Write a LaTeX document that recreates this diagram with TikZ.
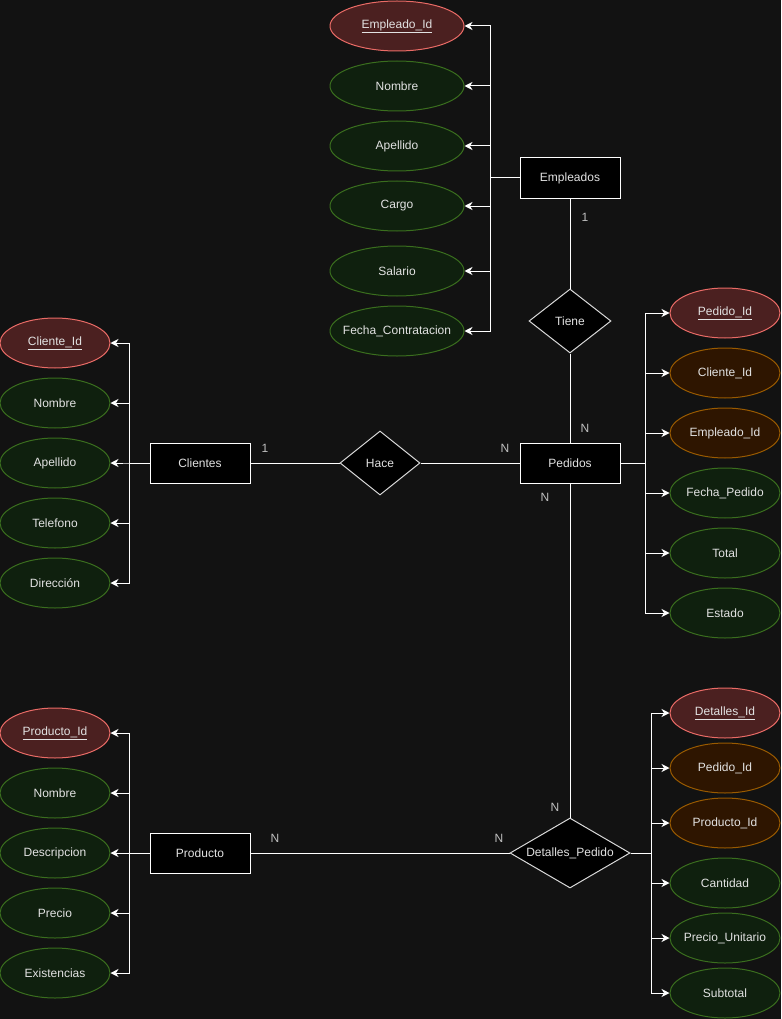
\documentclass[tikz,border=0pt]{standalone}
\usepackage{fontspec}
\setmainfont{Liberation Sans}
\usepackage{tikz}
\usetikzlibrary{shapes,arrows,arrows.meta,positioning}
\definecolor{fondo}{RGB}{18,18,18}
\definecolor{txt}{RGB}{226,226,226}
\definecolor{pkfill}{RGB}{75,32,32}
\definecolor{pkline}{RGB}{234,107,102}
\definecolor{fkfill}{RGB}{46,21,0}
\definecolor{fkline}{RGB}{153,90,0}
\definecolor{atfill}{RGB}{15,32,14}
\definecolor{atline}{RGB}{58,110,30}
\tikzstyle{line} = [draw=white, line width=1pt, -{Stealth[length=8pt, width=8pt, inset=2.5pt]}]
\tikzstyle{enlace} = [draw=white, line width=1pt]
\tikzstyle{entidad} = [rectangle, draw=white, line width=1pt, fill=black, minimum width=100pt, minimum height=40pt, text=txt, font=\fontsize{12}{14}\selectfont]
\tikzstyle{relacion} = [diamond, draw=white!85!black, line width=1pt, fill=black, aspect=1.7, inner sep=0pt, text=txt, font=\fontsize{12}{14}\selectfont]
\tikzstyle{atributo} = [ellipse, draw=atline, line width=1pt, fill=atfill, minimum width=110pt, minimum height=50pt, inner sep=0pt, text=txt, font=\fontsize{12}{14}\selectfont, node distance=60pt]
\tikzstyle{pk} = [atributo, draw=pkline, fill=pkfill]
\tikzstyle{fk} = [atributo, draw=fkline, fill=fkfill]
\tikzstyle{card} = [text=txt!85!black, font=\fontsize{12}{14}\selectfont]

\begin{document}
\begin{tikzpicture}[x=1pt, y=-1pt]
	\useasboundingbox (0,0) rectangle (781,1019);
	\fill[fondo] (0,0) rectangle (781,1019);
	
	% entidades y relaciones
	\node [entidad] (empleados) at (570,178) {Empleados};
	\node [relacion, below of = empleados, node distance = 143pt, minimum width=82pt, minimum height=64pt] (tiene) {Tiene};
	\node [entidad, below of = tiene, node distance = 142pt] (pedidos) {Pedidos};
	\node [relacion, left of = pedidos, node distance = 190pt, minimum width=80pt, minimum height=64pt] (hace) {Hace};
	\node [entidad, left of = hace, node distance = 180pt] (clientes) {Clientes};
	\node [relacion, below of = pedidos, node distance = 390pt, minimum width=120pt, minimum height=70pt] (detalles) {Detalles\_Pedido};
	\node [entidad, left of = detalles, node distance = 370pt] (producto) {Producto};
	
	% atributos de Empleados
	\node [pk, minimum width=134pt] (empid) at (397,26) {\underline{Empleado\_Id}};
	\node [atributo, minimum width=134pt, below of = empid] (empnombre) {Nombre};
	\node [atributo, minimum width=134pt, below of = empnombre] (empapellido) {Apellido};
	\node [atributo, minimum width=134pt, below of = empapellido] (empcargo) {Cargo};
	\node [atributo, minimum width=134pt, below of = empcargo, node distance=65pt] (empsalario) {Salario};
	\node [atributo, minimum width=134pt, below of = empsalario] (empfecha) {\makebox[0pt]{Fecha\_Contratacion}};
	
	\path [line] (empleados.west) -- ++(-29,0) |- (empid.east);
	\path [line] (empleados.west) -- ++(-29,0) |- (empnombre.east);
	\path [line] (empleados.west) -- ++(-29,0) |- (empapellido.east);
	\path [line] (empleados.west) -- ++(-29,0) |- (empcargo.east);
	\path [line] (empleados.west) -- ++(-29,0) |- (empsalario.east);
	\path [line] (empleados.west) -- ++(-29,0) |- (empfecha.east);
	
	% atributos de Pedidos
	\node [pk] (pedid) at (725,313) {\underline{Pedido\_Id}};
	\node [fk, below of = pedid] (pedcliente) {Cliente\_Id};
	\node [fk, below of = pedcliente] (pedempleado) {Empleado\_Id};
	\node [atributo, below of = pedempleado] (pedfecha) {Fecha\_Pedido};
	\node [atributo, below of = pedfecha] (pedtotal) {Total};
	\node [atributo, below of = pedtotal] (pedestado) {Estado};
	
	\path [line] (pedidos.east) -- ++(25,0) |- (pedid.west);
	\path [line] (pedidos.east) -- ++(25,0) |- (pedcliente.west);
	\path [line] (pedidos.east) -- ++(25,0) |- (pedempleado.west);
	\path [line] (pedidos.east) -- ++(25,0) |- (pedfecha.west);
	\path [line] (pedidos.east) -- ++(25,0) |- (pedtotal.west);
	\path [line] (pedidos.east) -- ++(25,0) |- (pedestado.west);
	
	% atributos de Clientes
	\node [pk] (cliid) at (55,343) {\underline{Cliente\_Id}};
	\node [atributo, below of = cliid] (clinombre) {Nombre};
	\node [atributo, below of = clinombre] (cliapellido) {Apellido};
	\node [atributo, below of = cliapellido] (clitelefono) {Telefono};
	\node [atributo, below of = clitelefono] (clidireccion) {Dirección};
	
	\path [line] (clientes.west) -- ++(-20,0) |- (cliid.east);
	\path [line] (clientes.west) -- ++(-20,0) |- (clinombre.east);
	\path [line] (clientes.west) -- ++(-20,0) |- (cliapellido.east);
	\path [line] (clientes.west) -- ++(-20,0) |- (clitelefono.east);
	\path [line] (clientes.west) -- ++(-20,0) |- (clidireccion.east);
	
	% atributos de Producto
	\node [pk] (prodid) at (55,733) {\underline{Producto\_Id}};
	\node [atributo, below of = prodid] (prodnombre) {Nombre};
	\node [atributo, below of = prodnombre] (proddesc) {Descripcion};
	\node [atributo, below of = proddesc] (prodprecio) {Precio};
	\node [atributo, below of = prodprecio] (prodexist) {Existencias};
	
	\path [line] (producto.west) -- ++(-20,0) |- (prodid.east);
	\path [line] (producto.west) -- ++(-20,0) |- (prodnombre.east);
	\path [line] (producto.west) -- ++(-20,0) |- (proddesc.east);
	\path [line] (producto.west) -- ++(-20,0) |- (prodprecio.east);
	\path [line] (producto.west) -- ++(-20,0) |- (prodexist.east);
	
	% atributos de Detalles_Pedido
	\node [pk] (detid) at (725,713) {\underline{Detalles\_Id}};
	\node [fk, below of = detid, node distance=55pt] (detpedido) {Pedido\_Id};
	\node [fk, below of = detpedido, node distance=55pt] (detproducto) {Producto\_Id};
	\node [atributo, below of = detproducto] (detcantidad) {Cantidad};
	\node [atributo, below of = detcantidad, node distance=55pt] (detprecio) {\makebox[0pt]{Precio\_Unitario}};
	\node [atributo, below of = detprecio, node distance=55pt] (detsubtotal) {Subtotal};
	
	\path [line] (detalles.east) -- ++(21,0) |- (detid.west);
	\path [line] (detalles.east) -- ++(21,0) |- (detpedido.west);
	\path [line] (detalles.east) -- ++(21,0) |- (detproducto.west);
	\path [line] (detalles.east) -- ++(21,0) |- (detcantidad.west);
	\path [line] (detalles.east) -- ++(21,0) |- (detprecio.west);
	\path [line] (detalles.east) -- ++(21,0) |- (detsubtotal.west);
	
	% relaciones
	\path [enlace] (empleados.south) -- (tiene.north);
	\path [enlace] (tiene.south) -- (pedidos.north);
	\path [enlace] (clientes.east) -- (hace.west);
	\path [enlace] (hace.east) -- (pedidos.west);
	\path [enlace] (pedidos.south) -- (detalles.north);
	\path [enlace] (producto.east) -- (detalles.west);
	
	% cardinalidades
	\node [card] (c1) at (585,217) {1};
	\node [card] (c2) at (585,428) {N};
	\node [card] (c3) at (265,448) {1};
	\node [card] (c4) at (505,448) {N};
	\node [card] (c5) at (545,497) {N};
	\node [card] (c6) at (555,807) {N};
	\node [card] (c7) at (275,838) {N};
	\node [card] (c8) at (499,838) {N};
\end{tikzpicture}
\end{document}
